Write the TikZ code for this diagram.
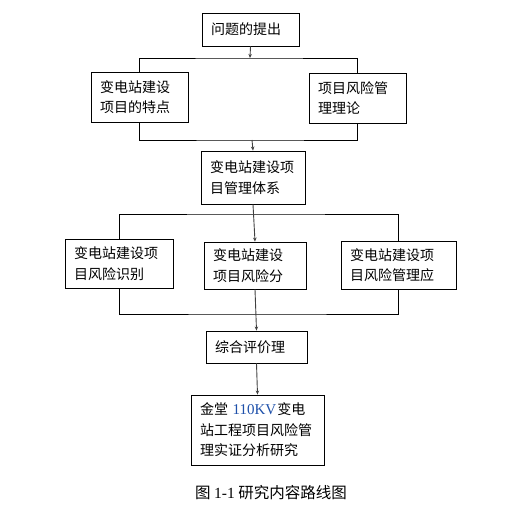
\documentclass[tikz,border=0pt]{standalone}
\usepackage{fontspec}
\newfontfamily\cjk{Noto Sans CJK SC}
\newfontfamily\lser{Liberation Serif}
\usetikzlibrary{arrows.meta}
\definecolor{numblue}{RGB}{30,80,170}
\begin{document}
\begin{tikzpicture}[x=1pt,y=-1pt,
  box/.style={draw=black,line width=0.9pt,rectangle,inner xsep=9pt,inner ysep=0pt,
    align=left,font=\cjk\fontsize{14}{20.5}\selectfont},
  arr/.style={draw=black!75,line width=0.9pt,-{Stealth[length=4pt,width=3.5pt]}},
  ln/.style={draw=black,line width=0.9pt}]
\useasboundingbox (0,0) rectangle (506,526);
\node[box,minimum width=97pt,minimum height=33pt,text width=79pt] (b1) at (250.5,29.5) {问题的提出};
\node[box,minimum width=97pt,minimum height=50pt,text width=79pt] (b2) at (139.5,97) {变电站建设\\项目的特点};
\node[box,minimum width=97pt,minimum height=50pt,text width=79pt] (b3) at (357.5,98) {项目风险管\\理理论};
\node[box,minimum width=104pt,minimum height=53pt,text width=86pt] (b4) at (253,177.5) {变电站建设项\\目管理体系};
\node[box,minimum width=108pt,minimum height=49pt,text width=90pt] (b5) at (119,263.5) {变电站建设项\\目风险识别};
\node[box,minimum width=102pt,minimum height=47pt,text width=84pt] (b6) at (255,265.5) {变电站建设\\项目风险分};
\node[box,minimum width=115pt,minimum height=48pt,text width=97pt] (b7) at (398.5,265) {变电站建设项\\目风险管理应};
\node[box,minimum width=101pt,minimum height=32pt,text width=83pt] (b8) at (256.5,347) {综合评价理};
\node[box,minimum width=133pt,minimum height=70pt,text width=115pt] (b9) at (257.5,430) {金堂 {\lser\fontsize{15}{20.5}\selectfont\color{numblue}110KV}\hspace{1pt}变电\\站工程项目风险管\\理实证分析研究};
\node[font=\cjk\fontsize{15.5}{18}\selectfont,inner sep=0pt] (cap) at (271,493) {图 {\lser 1-1} 研究内容路线图};
\coordinate (j1) at (250,58);
\coordinate (j2) at (252,140);
\coordinate (j3) at (253,214);
\coordinate (j4) at (256,314);
\draw[arr] (b1.south) -- (j1);
\draw[ln] (b2.north) |- (j1) -| (b3.north);
\draw[ln] (b2.south) |- (j2) -| (b3.south);
\draw[arr] (j2) -- (b4.north);
\draw[ln] (b5.north) |- (j3) -| (b7.north);
\draw[arr] (b4.south) -- (b6.north);
\draw[ln] (b5.south) |- (j4) -| (b7.south);
\draw[arr] (b6.south) -- (b8.north);
\draw[arr] (b8.south) -- (b9.north);
\end{tikzpicture}
\end{document}
